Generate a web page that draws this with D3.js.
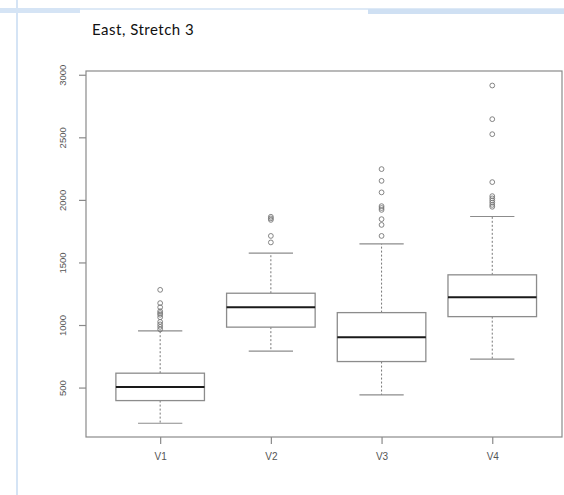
<!DOCTYPE html>
<html>
<head>
<meta charset="utf-8">
<script src="https://cdn.jsdelivr.net/npm/d3@7"></script>
<style>
  body { margin: 0; background: #fff; }
  svg { display: block; }
</style>
</head>
<body>
<div class="boxChart"></div>
<script>
// values
const categories = ["V1", "V2", "V3", "V4"];
const whiskerLow = [215, 791, 441, 727];
const q1 = [396, 983, 708, 1067];
const median = [505, 1142, 902, 1222];
const q3 = [615, 1254, 1099, 1401];
const whiskerHigh = [953, 1574, 1649, 1867];
const outliersV1 = [1281, 1175, 1142, 1110, 1095, 1082, 1062, 1025, 1005, 985, 965];
const outliersV2 = [1865, 1852, 1840, 1712, 1660];
const outliersV3 = [2246, 2152, 2060, 1950, 1935, 1920, 1846, 1800, 1712];
const outliersV4 = [2914, 2645, 2525, 2142, 2030, 2012, 1995, 1978, 1960, 1945];
const outliers = [outliersV1, outliersV2, outliersV3, outliersV4];
const yTicks = [500, 1000, 1500, 2000, 2500, 3000];
const title = "East, Stretch 3";

const width = 564, height = 495;
const frame = { left: 86, right: 562, top: 71, bottom: 437 };

const svg = d3.select(".boxChart").append("svg")
    .attr("width", width)
    .attr("height", height);

// page decoration around the pasted chart
const deco = svg.append("g");
deco.append("rect").attr("x", 0).attr("y", 8).attr("width", width).attr("height", 2).attr("fill", "#dde9f6");
deco.append("rect").attr("x", 0).attr("y", 8).attr("width", 80).attr("height", 5).attr("fill", "#d5e4f5");
deco.append("rect").attr("x", 368).attr("y", 9).attr("width", 196).attr("height", 5).attr("fill", "#cfe0f3");
deco.append("rect").attr("x", 16).attr("y", 0).attr("width", 2).attr("height", height).attr("fill", "#d5e4f5");

svg.append("text")
    .attr("x", 92).attr("y", 35)
    .style("font-family", "Lato, 'Open Sans', sans-serif")
    .style("font-size", "15px")
    .style("letter-spacing", "0.5px")
    .style("word-spacing", "0px")
    .attr("fill", "#111")
    .text(title);

const x = d3.scaleLinear().domain([0.33, 4.63]).range([frame.left, frame.right]);
const y = d3.scaleLinear().domain([105, 3030]).range([frame.bottom, frame.top]);

const axisColor = "#8a8a8a";

// frame
svg.append("rect")
    .attr("x", frame.left).attr("y", frame.top)
    .attr("width", frame.right - frame.left).attr("height", frame.bottom - frame.top)
    .attr("fill", "none").attr("stroke", axisColor).attr("stroke-width", 1.2);

const yAxis = d3.axisLeft(y).tickValues(yTicks).tickSize(7).tickPadding(0).tickFormat(d3.format("d"));
const gy = svg.append("g").attr("transform", "translate(" + frame.left + ",0)").call(yAxis);
gy.select(".domain").remove();
gy.selectAll(".tick line").attr("stroke", axisColor).attr("stroke-width", 1.2);
gy.selectAll(".tick text")
    .attr("x", 0).attr("dy", 0)
    .attr("transform", "translate(-20,0) rotate(-90)")
    .style("text-anchor", "middle")
    .style("font-family", "'Liberation Sans', Arial, sans-serif")
    .style("font-size", "9.5px")
    .attr("fill", "#555");

const xAxis = d3.axisBottom(x).tickValues([1, 2, 3, 4]).tickSize(7).tickPadding(9)
    .tickFormat((d) => categories[d - 1]);
const gx = svg.append("g").attr("transform", "translate(0," + frame.bottom + ")").call(xAxis);
gx.select(".domain").remove();
gx.selectAll(".tick line").attr("stroke", axisColor).attr("stroke-width", 1.2);
gx.selectAll(".tick text")
    .style("font-family", "'Liberation Sans', Arial, sans-serif")
    .style("font-size", "10px")
    .attr("fill", "#555");

// boxes
const boxW = 0.8, stapleW = 0.4;
const boxes = svg.append("g").selectAll("g").data(categories).join("g");
const boxColor = "#8c8c8c";

boxes.append("line")
    .attr("x1", (d, i) => x(i + 1)).attr("x2", (d, i) => x(i + 1))
    .attr("y1", (d, i) => y(q3[i])).attr("y2", (d, i) => y(whiskerHigh[i]))
    .attr("stroke", "#777").attr("stroke-dasharray", "2,2");
boxes.append("line")
    .attr("x1", (d, i) => x(i + 1)).attr("x2", (d, i) => x(i + 1))
    .attr("y1", (d, i) => y(q1[i])).attr("y2", (d, i) => y(whiskerLow[i]))
    .attr("stroke", "#777").attr("stroke-dasharray", "2,2");
boxes.append("line")
    .attr("x1", (d, i) => x(i + 1 - stapleW / 2)).attr("x2", (d, i) => x(i + 1 + stapleW / 2))
    .attr("y1", (d, i) => y(whiskerHigh[i])).attr("y2", (d, i) => y(whiskerHigh[i]))
    .attr("stroke", boxColor).attr("stroke-width", 1.2);
boxes.append("line")
    .attr("x1", (d, i) => x(i + 1 - stapleW / 2)).attr("x2", (d, i) => x(i + 1 + stapleW / 2))
    .attr("y1", (d, i) => y(whiskerLow[i])).attr("y2", (d, i) => y(whiskerLow[i]))
    .attr("stroke", boxColor).attr("stroke-width", 1.2);
boxes.append("rect")
    .attr("x", (d, i) => x(i + 1 - boxW / 2))
    .attr("width", (d, i) => x(i + 1 + boxW / 2) - x(i + 1 - boxW / 2))
    .attr("y", (d, i) => y(q3[i]))
    .attr("height", (d, i) => y(q1[i]) - y(q3[i]))
    .attr("fill", "#fff").attr("stroke", boxColor).attr("stroke-width", 1.3);
boxes.append("line")
    .attr("x1", (d, i) => x(i + 1 - boxW / 2)).attr("x2", (d, i) => x(i + 1 + boxW / 2))
    .attr("y1", (d, i) => y(median[i])).attr("y2", (d, i) => y(median[i]))
    .attr("stroke", "#1a1a1a").attr("stroke-width", 2.1);

boxes.selectAll("circle")
    .data((d, i) => outliers[i].map((v) => ({ pos: i + 1, v: v })))
    .join("circle")
    .attr("cx", (d) => x(d.pos))
    .attr("cy", (d) => y(d.v))
    .attr("r", 2.4)
    .attr("fill", "none").attr("stroke", "#777").attr("stroke-width", 0.9);
</script>
</body>
</html>
